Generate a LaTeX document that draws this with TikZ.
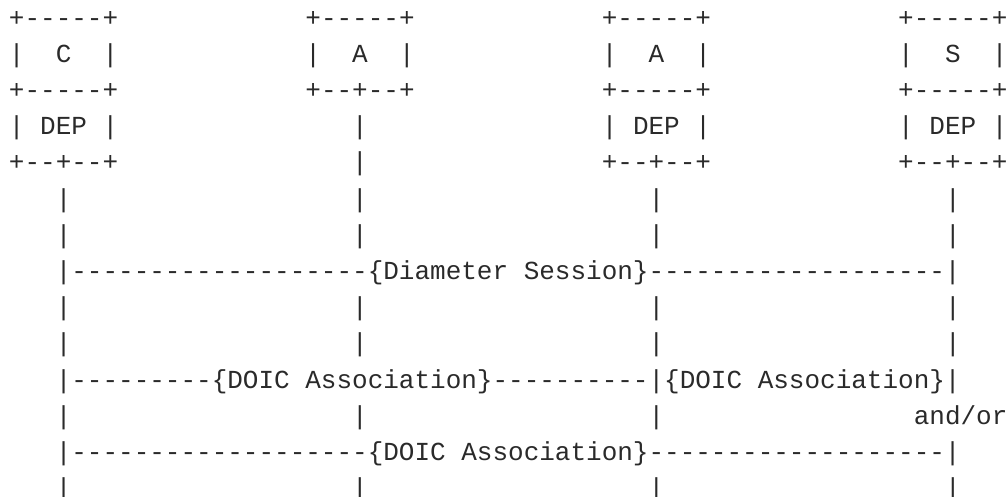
\documentclass[tikz,border=0pt]{standalone}
\usepackage{fontspec}
\setmonofont{Liberation Mono}
\ExplSyntaxOn
\NewDocumentCommand\hrun{m}{\prg_replicate:nn{#1}{-}}
\ExplSyntaxOff
\definecolor{ink}{HTML}{2A2A2A}
\begin{document}
\begin{tikzpicture}[x=7.8pt,y=-18.1pt,
  ascii/.style={font=\ttfamily\fontsize{13pt}{13pt}\selectfont,text=ink,
    inner sep=0pt,outer sep=0pt,anchor=base west}]
\useasboundingbox (0pt,0pt) rectangle (504pt,-248.5pt);
\begin{scope}[shift={(4.5pt,-13.05pt)}]
% top boxes: C, A, A, S
\node[ascii] (c-top)  at (0,0)  {+-----+};
\node[ascii] (a1-top) at (19,0) {+-----+};
\node[ascii] (a2-top) at (38,0) {+-----+};
\node[ascii] (s-top)  at (57,0) {+-----+};
\node[ascii] (c-l)  at (0,1)  {|};  \node[ascii] (c-name)  at (3,1)  {C}; \node[ascii] (c-r)  at (6,1)  {|};
\node[ascii] (a1-l) at (19,1) {|};  \node[ascii] (a1-name) at (22,1) {A}; \node[ascii] (a1-r) at (25,1) {|};
\node[ascii] (a2-l) at (38,1) {|};  \node[ascii] (a2-name) at (41,1) {A}; \node[ascii] (a2-r) at (44,1) {|};
\node[ascii] (s-l)  at (57,1) {|};  \node[ascii] (s-name)  at (60,1) {S}; \node[ascii] (s-r)  at (63,1) {|};
\node[ascii] (c-mid)  at (0,2)  {+-----+};
\node[ascii] (a1-bot) at (19,2) {+--+--+};
\node[ascii] (a2-mid) at (38,2) {+-----+};
\node[ascii] (s-mid)  at (57,2) {+-----+};
% DEP layers
\node[ascii] (c-dep)  at (0,3)  {| DEP |};
\node[ascii] (a1-v3)  at (22,3) {|};
\node[ascii] (a2-dep) at (38,3) {| DEP |};
\node[ascii] (s-dep)  at (57,3) {| DEP |};
\node[ascii] (c-bot)  at (0,4)  {+--+--+};
\node[ascii] (a1-v4)  at (22,4) {|};
\node[ascii] (a2-bot) at (38,4) {+--+--+};
\node[ascii] (s-bot)  at (57,4) {+--+--+};
% lifelines
\foreach \r in {5,6,8,9,13}{
  \node[ascii] (c-v\r)  at (3,\r)  {|};
  \node[ascii] (a1-v\r) at (22,\r) {|};
  \node[ascii] (a2-v\r) at (41,\r) {|};
  \node[ascii] (s-v\r)  at (60,\r) {|};
}
% sessions and associations
\node[ascii] (session) at (3,7)
  {|\hrun{19}\{Diameter Session\}\hrun{19}|};
\node[ascii] (assoc-a) at (3,10)
  {|\hrun{9}\{DOIC Association\}\hrun{10}|\{DOIC Association\}|};
\node[ascii] (c-v11)  at (3,11)  {|};
\node[ascii] (a1-v11) at (22,11) {|};
\node[ascii] (a2-v11) at (41,11) {|};
\node[ascii] (andor)  at (58,11) {and/or};
\node[ascii] (assoc-b) at (3,12)
  {|\hrun{19}\{DOIC Association\}\hrun{19}|};
\end{scope}
\end{tikzpicture}
\end{document}
